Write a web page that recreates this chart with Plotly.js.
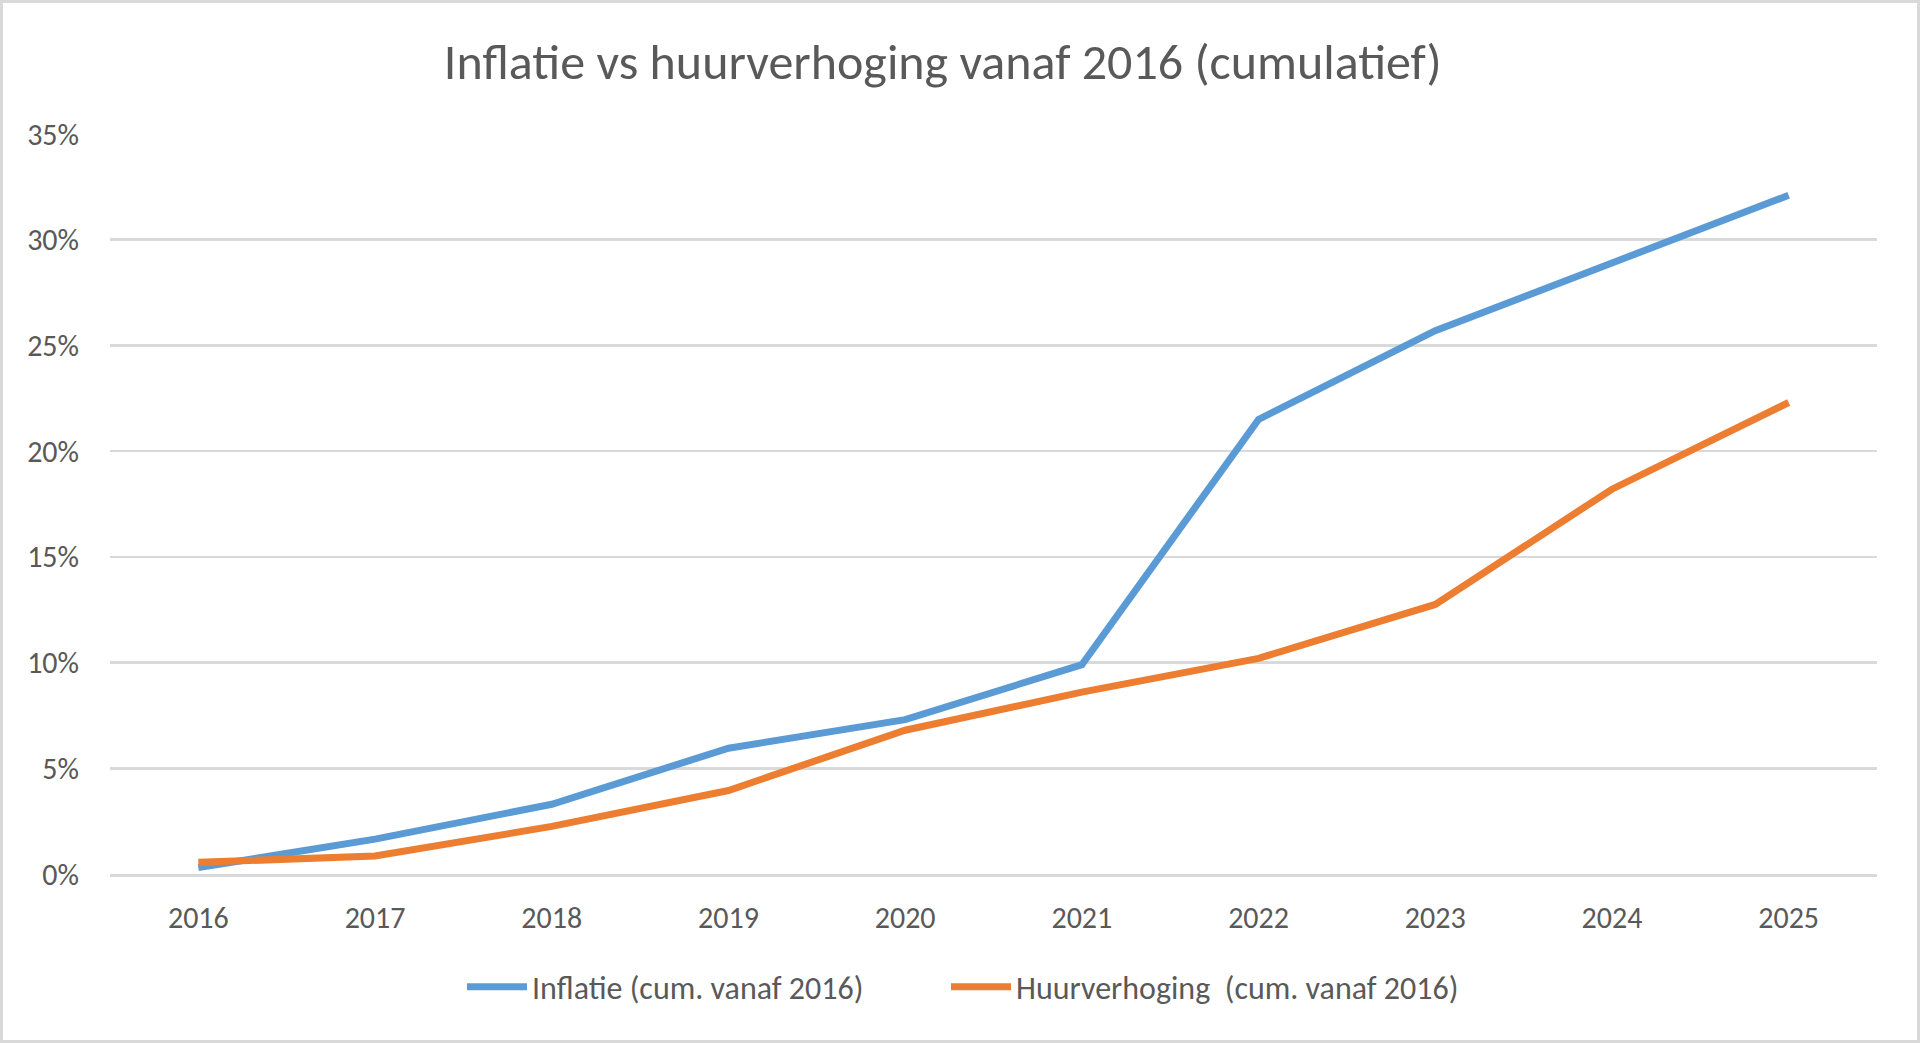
<!DOCTYPE html>
<html>
<head>
<meta charset="utf-8">
<script src="https://cdn.plot.ly/plotly-3.0.1.min.js"></script>
<style>
html,body{margin:0;padding:0;background:#fff;}
#wrap{position:relative;width:1920px;height:1043px;}
#chart{width:1920px;height:1043px;}
#frame{position:absolute;left:0;top:0;width:1920px;height:1043px;box-sizing:border-box;border:3px solid #d9d9d9;pointer-events:none;}
</style>
</head>
<body>
<div id="wrap"><div id="chart"></div><div id="frame"></div></div>
<script>
const years = ['2016','2017','2018','2019','2020','2021','2022','2023','2024','2025'];
const inflatie = [0.3, 1.65, 3.3, 5.95, 7.3, 9.9, 21.5, 25.7, 28.9, 32.1];
const huur = [0.55, 0.85, 2.25, 3.95, 6.8, 8.6, 10.2, 12.75, 18.2, 22.3];
const yTicks = [0, 5, 10, 15, 20, 25, 30, 35];
const yTickLabels = ['0%', '5%', '10%', '15%', '20%', '25%', '30%', '35%'];
const names = ['Inflatie (cum. vanaf 2016)', 'Huurverhoging  (cum. vanaf 2016)'];
const titleText = 'Inflatie vs huurverhoging vanaf 2016 (cumulatief)';

const FONT = 'Carlito, Lato, "Open Sans", sans-serif';
const GREY = '#595959';

const traces = [
  {x: years, y: inflatie, type: 'scatter', mode: 'lines', name: names[0],
   line: {color: '#5B9BD5', width: 7}, legend: 'legend'},
  {x: years, y: huur, type: 'scatter', mode: 'lines', name: names[1],
   line: {color: '#ED7D31', width: 7}, legend: 'legend2'}
];

const legendBase = {
  orientation: 'h', xref: 'container', xanchor: 'left',
  y: 1 - 987/1043, yref: 'container', yanchor: 'middle',
  font: {family: FONT, size: 32, color: GREY}, itemwidth: 60,
  bgcolor: 'rgba(0,0,0,0)'
};

const layout = {
  width: 1920, height: 1043,
  paper_bgcolor: '#ffffff', plot_bgcolor: '#ffffff',
  margin: {l: 110, r: 43, t: 134, b: 169},
  font: {family: FONT, color: GREY, size: 30},
  title: {text: titleText, font: {family: FONT, size: 50, color: GREY},
          x: 0.491, xref: 'container', xanchor: 'center', y: 1 - 61/1043, yref: 'container', yanchor: 'middle'},
  xaxis: {type: 'category', range: [-0.5, 9.5], showgrid: false, zeroline: false,
          showline: true, linecolor: '#d9d9d9', linewidth: 3,
          ticks: 'outside', ticklen: 15, tickcolor: 'rgba(0,0,0,0)',
          tickfont: {family: FONT, size: 30, color: GREY}, fixedrange: true},
  yaxis: {range: [0, 35], tickvals: yTicks, ticktext: yTickLabels, showgrid: true,
          gridcolor: '#d9d9d9', gridwidth: 2.5, zeroline: false, showline: false,
          ticks: 'outside', ticklen: 24, tickcolor: 'rgba(0,0,0,0)',
          tickfont: {family: FONT, size: 30, color: GREY}, fixedrange: true},
  showlegend: true,
  legend: Object.assign({}, legendBase, {x: 462/1920}),
  legend2: Object.assign({}, legendBase, {x: 946/1920})
};

Plotly.newPlot('chart', traces, layout, {displayModeBar: false, staticPlot: true});
</script>
</body>
</html>
